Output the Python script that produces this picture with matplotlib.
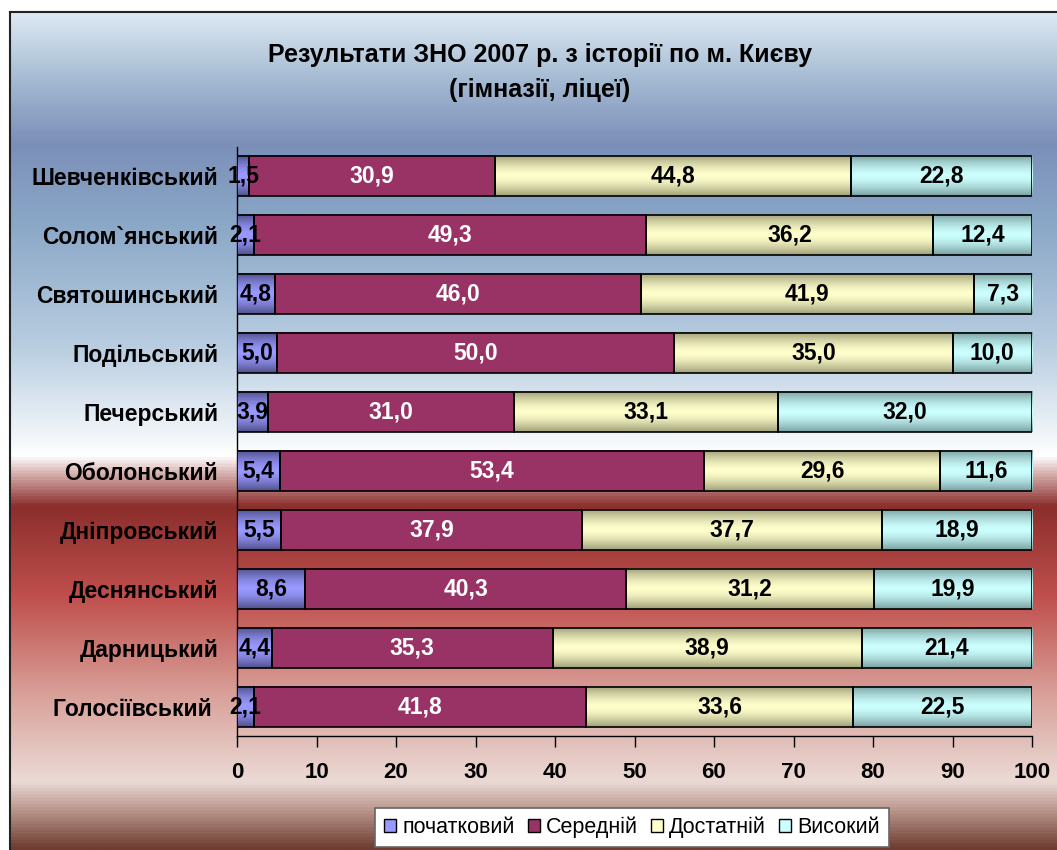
import numpy as np
import matplotlib
matplotlib.use('Agg')
import matplotlib.pyplot as plt
from matplotlib.colors import LinearSegmentedColormap, to_rgb
from matplotlib.patches import Patch

plt.rcParams['font.family'] = ['Liberation Sans', 'DejaVu Sans']

# data (top to bottom as in the picture)
districts = ['Шевченківський', 'Солом`янський', 'Святошинський', 'Подільський',
             'Печерський', 'Оболонський', 'Дніпровський', 'Деснянський',
             'Дарницький', 'Голосіївський ']
pochatkovyi = [1.5, 2.1, 4.8, 5.0, 3.9, 5.4, 5.5, 8.6, 4.4, 2.1]
serednii = [30.9, 49.3, 46.0, 50.0, 31.0, 53.4, 37.9, 40.3, 35.3, 41.8]
dostatnii = [44.8, 36.2, 41.9, 35.0, 33.1, 29.6, 37.7, 31.2, 38.9, 33.6]
vysokyi = [22.8, 12.4, 7.3, 10.0, 32.0, 11.6, 18.9, 19.9, 21.4, 22.5]
series_names = ['початковий', 'Середній', 'Достатній', 'Високий']
xticks = [0, 10, 20, 30, 40, 50, 60, 70, 80, 90, 100]

colors = ['#9999ff', '#993366', '#ffffcc', '#ccffff']
edge_dark = ['#50508a', '#993366', '#a0a07a', '#7aa0a0']
text_colors = ['black', 'white', 'black', 'black']

fig = plt.figure(figsize=(10.57, 8.5), dpi=100)
fig.patch.set_facecolor('white')

# background gradient panel
bg = fig.add_axes([10 / 1057, 0, 1 - 10 / 1057, 1 - 12 / 850])
stops = [(0.0, '#dde9f3'), (0.08, '#a4bad2'), (0.155, '#7b8fb9'), (0.25, '#8aa7c7'),
         (0.40, '#b9cee1'), (0.50, '#eef3f8'), (0.53, '#ffffff'), (0.55, '#d8b4b2'),
         (0.59, '#8b2e2c'), (0.70, '#c0504d'), (0.82, '#d9a39c'), (0.92, '#ebdad5'),
         (0.96, '#b08a80'), (1.0, '#6e3c30')]
bg_cmap = LinearSegmentedColormap.from_list('bg', stops)
grad = np.linspace(0, 1, 512).reshape(-1, 1)
bg.imshow(grad, cmap=bg_cmap, aspect='auto', extent=(0, 1, 0, 1), origin='upper')
bg.set_xlim(0, 1)
bg.set_ylim(0, 1)
bg.set_xticks([])
bg.set_yticks([])
for s in ['right', 'bottom']:
    bg.spines[s].set_visible(False)
for s in ['left', 'top']:
    bg.spines[s].set_linewidth(1.5)
    bg.spines[s].set_color('#222222')

ax = fig.add_axes([237 / 1057, (850 - 736) / 850, (1032 - 237) / 1057, (736 - 147) / 850])
ax.patch.set_alpha(0)

ypos = np.arange(len(districts))[::-1]
data = [pochatkovyi, serednii, dostatnii, vysokyi]
left = np.zeros(len(districts))
bar_h = 0.68
for k, vals in enumerate(data):
    vals = np.array(vals)
    bars = ax.barh(ypos, vals, left=left, height=bar_h, color=colors[k],
                   edgecolor='black', linewidth=1.2, zorder=3)
    # vertical shading inside segments
    c0 = np.array(to_rgb(edge_dark[k]))
    c1 = np.array(to_rgb(colors[k]))
    t = np.abs(np.linspace(-1, 1, 64)) ** 1.5
    shade = (c1[None, :] * (1 - t[:, None]) + c0[None, :] * t[:, None]).reshape(64, 1, 3)
    for b in bars:
        ax.imshow(shade, aspect='auto', zorder=3.5,
                  extent=(b.get_x(), b.get_x() + b.get_width(), b.get_y(), b.get_y() + b.get_height()))
        b.set_facecolor('none')
        b.set_zorder(4)
    for y, l, v in zip(ypos, left, vals):
        ax.text(l + v / 2, y, f'{v:.1f}'.replace('.', ','), ha='center', va='center',
                fontsize=16.5, fontweight='bold', color=text_colors[k], zorder=5)
    left = left + vals

ax.set_xlim(0, 100)
ax.set_ylim(-0.5, 9.5)
ax.set_yticks(ypos)
ax.set_yticklabels(districts, fontsize=16.5, fontweight='bold')
ax.tick_params(axis='y', length=0, pad=13.5)
ax.set_xticks(xticks)
ax.set_xticklabels([str(x) for x in xticks], fontsize=16, fontweight='bold')
ax.tick_params(axis='x', direction='out', length=8, width=1, pad=11)
for s in ['top', 'right']:
    ax.spines[s].set_visible(False)
for s in ['left', 'bottom']:
    ax.spines[s].set_linewidth(1)

fig.text(540 / 1057, 1 - 55 / 850, 'Результати ЗНО 2007 р. з історії по м. Києву',
         ha='center', va='center', fontsize=18, fontweight='bold')
fig.text(540 / 1057, 1 - 90 / 850, '(гімназії, ліцеї)',
         ha='center', va='center', fontsize=18, fontweight='bold')

handles = [Patch(facecolor=c, edgecolor='black', linewidth=1) for c in colors]
leg = fig.legend(handles, series_names, loc='upper center', bbox_to_anchor=(632 / 1057, 1 - 808 / 850),
                 ncol=4, fontsize=15.5, frameon=True, fancybox=False, framealpha=1,
                 edgecolor='#666666', handlelength=0.55, handleheight=0.55, handletextpad=0.3,
                 columnspacing=0.6, borderpad=0.4, borderaxespad=0)
leg.get_frame().set_linewidth(1.2)

fig.savefig('out.png', dpi=100)
